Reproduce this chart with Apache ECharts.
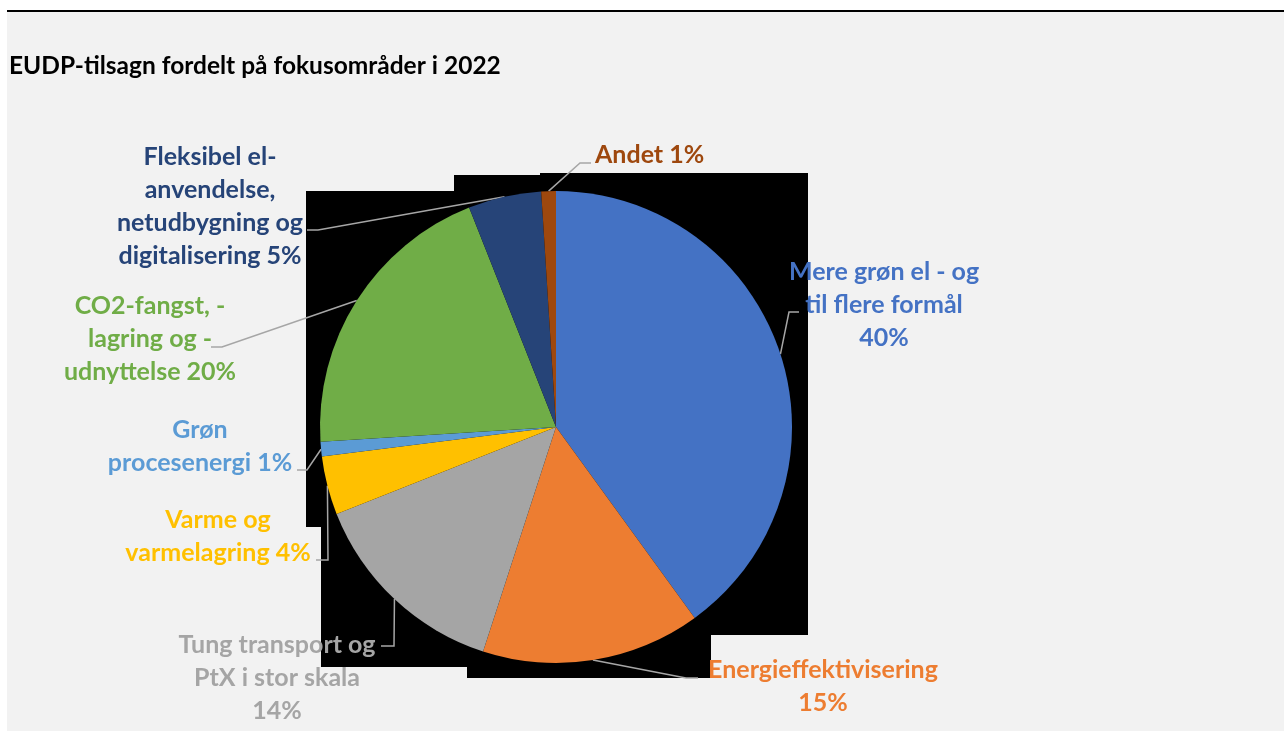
<!DOCTYPE html>
<html>
<head>
<meta charset="utf-8">
<script src="https://cdn.jsdelivr.net/npm/echarts@6/dist/echarts.min.js"></script>
<style>
  html, body { margin: 0; padding: 0; background: #fff; }
  #frame { width: 1284px; height: 731px; }
</style>
</head>
<body>
<div id="frame"></div>
<script>
// data
const categories = [
  'Mere grøn el - og\ntil flere formål',
  'Energieffektivisering',
  'Tung transport og\nPtX i stor skala',
  'Varme og\nvarmelagring',
  'Grøn\nprocesenergi',
  'CO2-fangst, -\nlagring og -\nudnyttelse',
  'Fleksibel el-\nanvendelse,\nnetudbygning og\ndigitalisering',
  'Andet'
];
const shares = [40, 15, 14, 4, 1, 20, 5, 1];
const pctSeparator = ['\n', '\n', '\n', ' ', ' ', ' ', ' ', ' '];
const colors = ['#4472c4', '#ed7d31', '#a5a5a5', '#ffc000', '#5b9bd5', '#70ad47', '#264478', '#9e480e'];

// label placement: [x, y, align, elbowX, elbowY, endX]
const labelPlace = [
  [884, 305, 'center', 789, 312, 799],
  [823, 686, 'center', 686, 678, 698],
  [277, 678, 'center', 394, 646, 381],
  [218, 536, 'center', 328, 560, 316],
  [200, 446, 'center', 307, 470, 297],
  [150, 339, 'center', 222, 347, 211],
  [210, 206, 'center', 318, 230, 307],
  [595, 155, 'left', 580, 163, 591]
];

const chart = echarts.init(document.getElementById('frame'));
const font = 'Lato, "Open Sans", sans-serif';

const option = {
  backgroundColor: '#ffffff',
  animation: false,
  graphic: [
    { type: 'rect', z: -10, shape: { x: 7, y: 12, width: 1277, height: 719 }, style: { fill: '#f2f2f2' } },
    { type: 'line', z: -9, shape: { x1: 7, y1: 11, x2: 1284, y2: 11 }, style: { stroke: '#000', lineWidth: 2 } },
    // dark backdrop behind the pie as in the source rendering
    { type: 'rect', z: -8, shape: { x: 306, y: 191, width: 502, height: 336 }, style: { fill: '#000' } },
    { type: 'rect', z: -8, shape: { x: 454, y: 175, width: 354, height: 16 }, style: { fill: '#000' } },
    { type: 'rect', z: -8, shape: { x: 540, y: 173, width: 268, height: 2 }, style: { fill: '#000' } },
    { type: 'rect', z: -8, shape: { x: 321, y: 527, width: 487, height: 108 }, style: { fill: '#000' } },
    { type: 'rect', z: -8, shape: { x: 321, y: 635, width: 390, height: 32 }, style: { fill: '#000' } },
    { type: 'rect', z: -8, shape: { x: 467, y: 667, width: 244, height: 11 }, style: { fill: '#000' } },
    {
      type: 'text', left: 9, top: 54,
      style: { text: 'EUDP-tilsagn fordelt på fokusområder i 2022', font: 'bold 24.5px ' + font, fill: '#000' }
    }
  ],
  series: [{
    type: 'pie',
    center: [556, 427],
    radius: 236,
    startAngle: 90,
    clockwise: true,
    avoidLabelOverlap: false,
    itemStyle: { borderWidth: 0 },
    label: {
      show: true,
      position: 'outside',
      fontFamily: font,
      fontWeight: 'bold',
      fontSize: 25,
      lineHeight: 33,
      formatter: p => p.name + pctSeparator[p.dataIndex] + p.value + '%'
    },
    labelLine: { show: true, length: 10, length2: 10, lineStyle: { color: '#a6a6a6', width: 1.5 } },
    labelLayout: function (params) {
      const lp = labelPlace[params.dataIndex];
      const res = { x: lp[0], y: lp[1], align: lp[2], verticalAlign: 'middle' };
      if (params.labelLinePoints) {
        const start = params.labelLinePoints[0];
        res.labelLinePoints = [start, [lp[3], lp[4]], [lp[5], lp[4]]];
      }
      return res;
    },
    data: categories.map((name, i) => ({
      name: name,
      value: shares[i],
      itemStyle: { color: colors[i] },
      label: { color: colors[i] }
    }))
  }]
};

chart.setOption(option);
</script>
</body>
</html>
